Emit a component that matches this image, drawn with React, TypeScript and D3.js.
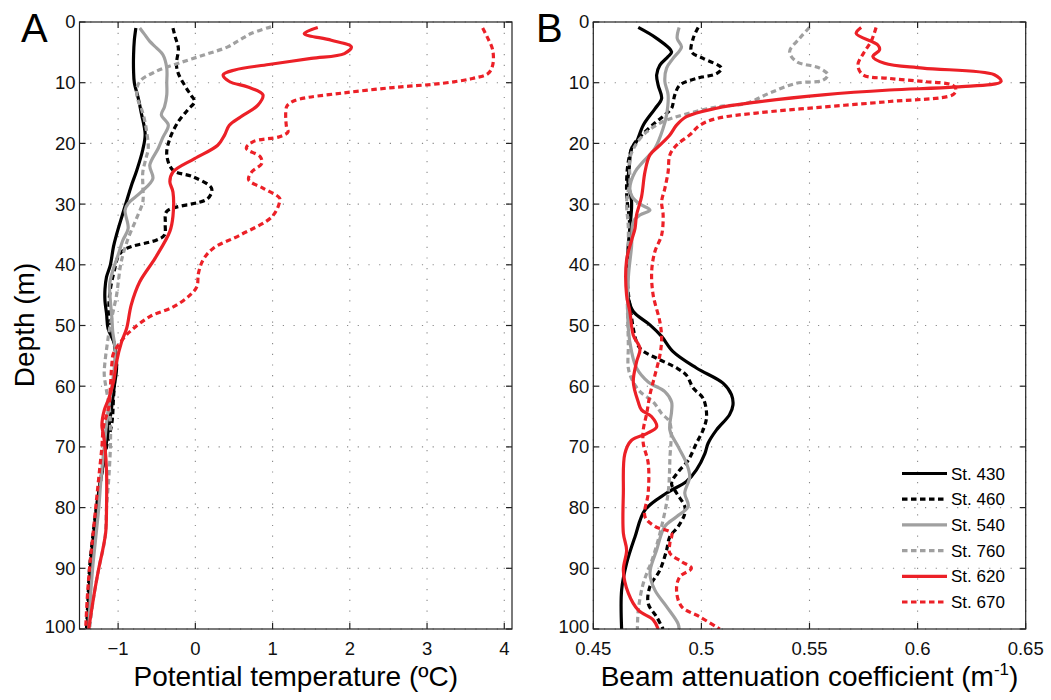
import React from 'react';
import * as d3 from 'd3';

type P = [number, number]; // [depth (m), value]

const stations = ['St. 430', 'St. 460', 'St. 540', 'St. 760', 'St. 620', 'St. 670'];
const stationColors = ['#000000', '#000000', '#a0a0a0', '#a0a0a0', '#ec2027', '#ec2027'];
const stationDashed = [false, true, false, true, false, true];

const depthTicks = [0, 10, 20, 30, 40, 50, 60, 70, 80, 90, 100];
const tempTicks = [-1, 0, 1, 2, 3, 4];
const beamTicks = [0.45, 0.5, 0.55, 0.6, 0.65];

// Panel A: potential temperature (°C) vs depth
const temp430: P[] = [[1,-0.77],[3,-0.79],[5.5,-0.8],[8,-0.8],[10,-0.79],[12.5,-0.74],[15,-0.7],[18.5,-0.65],[21,-0.68],[24.5,-0.76],[27,-0.83],[29.5,-0.89],[32,-0.95],[35,-1.02],[37,-1.06],[40,-1.1],[42,-1.15],[44,-1.17],[46,-1.17],[48,-1.15],[50.5,-1.13],[53,-1.05],[57,-1.02],[60,-1.05],[65,-1.1],[70,-1.16],[75,-1.22],[80,-1.28],[85,-1.32],[90,-1.36],[95,-1.38],[100,-1.4]];
const temp460: P[] = [[1,-0.29],[2.5,-0.26],[4.3,-0.22],[7,-0.245],[8.5,-0.22],[10.4,-0.14],[12,-0.06],[13.1,-0.01],[14.5,-0.1],[16.4,-0.22],[19.2,-0.33],[21.9,-0.37],[24.4,-0.29],[25.5,-0.03],[27.4,0.21],[29.1,0.16],[31.2,-0.37],[33,-0.39],[35.1,-0.4],[35.9,-0.5],[37.3,-0.89],[38.4,-0.99],[41,-1.05],[44,-1.1],[47,-1.12],[50,-1.1],[52.5,-1.06],[55,-1.03],[58,-1.04],[62,-1.06],[66,-1.08],[70,-1.15],[75,-1.22],[80,-1.28],[85,-1.33],[90,-1.37],[95,-1.39],[100,-1.41]];
const temp540: P[] = [[1,-0.72],[2,-0.66],[3.2,-0.59],[4.3,-0.5],[5.4,-0.42],[7.6,-0.37],[10,-0.37],[12,-0.37],[14,-0.4],[15.3,-0.44],[17,-0.35],[19,-0.42],[20.8,-0.48],[23.6,-0.59],[25.8,-0.55],[28,-0.7],[29.9,-0.87],[31,-0.91],[34,-0.87],[36,-0.94],[38.4,-1],[41,-1.07],[43.3,-1.11],[46,-1.1],[48.8,-1.08],[51,-1.07],[53.8,-1.04],[57,-1.05],[60,-1.08],[65,-1.14],[70,-1.18],[75,-1.22],[80,-1.25],[85,-1.29],[90,-1.33],[95,-1.36],[100,-1.38]];
const temp760: P[] = [[0.8,0.98],[1.9,0.72],[3,0.57],[4.1,0.42],[5.4,0.12],[6.8,-0.22],[8.2,-0.52],[9.8,-0.72],[11.5,-0.76],[13,-0.74],[14.2,-0.7],[16,-0.66],[18.1,-0.63],[20.8,-0.61],[22.5,-0.64],[24.7,-0.68],[27,-0.68],[29.6,-0.68],[32.3,-0.76],[36,-0.88],[39.5,-0.96],[42,-0.99],[45,-1.02],[48,-1.07],[50.5,-1.11],[53,-1.14],[56,-1.17],[58,-1.18],[60,-1.16],[63,-1.12],[66,-1.1],[70,-1.1],[75,-1.12],[80,-1.15],[85,-1.17],[90,-1.25],[95,-1.32],[100,-1.37]];
const temp620: P[] = [[0.9,1.585],[1.9,1.41],[3,1.76],[4.1,2.02],[5.2,1.93],[6,1.5],[7,0.95],[7.9,0.51],[8.7,0.36],[9.8,0.44],[10.7,0.68],[12,0.875],[13.7,0.81],[15.6,0.59],[17,0.44],[18.6,0.38],[20.3,0.29],[22.5,-0.01],[24.7,-0.29],[26.3,-0.33],[28,-0.29],[32,-0.29],[34.5,-0.33],[38.9,-0.52],[42.8,-0.72],[46.6,-0.83],[50.5,-0.89],[52.7,-0.955],[56,-1.02],[59.3,-1.06],[62,-1.12],[64,-1.18],[66.5,-1.21],[68,-1.19],[70,-1.17],[74,-1.15],[80,-1.15],[84,-1.16],[87,-1.2],[90,-1.25],[95,-1.32],[100,-1.38]];
const temp670: P[] = [[1,3.72],[2.5,3.78],[4.6,3.85],[7.1,3.85],[8.5,3.79],[9.3,3.59],[10.1,3.2],[10.8,2.56],[11.7,1.91],[12.7,1.35],[13.4,1.22],[14,1.18],[17.3,1.18],[18.1,1.2],[18.9,1.09],[19.7,0.75],[20.8,0.66],[22.2,0.84],[23.3,0.86],[24.7,0.73],[26,0.69],[27.4,0.88],[29,1.09],[29.7,1.09],[32.1,0.99],[35.1,0.58],[37.3,0.23],[39.2,0.1],[41.4,0.04],[43.6,0.02],[45,-0.07],[46.9,-0.28],[48.5,-0.585],[50.7,-0.82],[52.1,-0.93],[54.6,-1.06],[56.2,-1.08],[60.1,-1.1],[63.4,-1.12],[66.7,-1.19],[70,-1.21],[75,-1.25],[80,-1.29],[85,-1.33],[90,-1.37],[95,-1.4],[100,-1.42]];

// Panel B: beam attenuation coefficient (1/m) vs depth
const beam430: P[] = [[0.9,0.4708],[2.7,0.4793],[4.9,0.4862],[5.7,0.4846],[7.1,0.4808],[8.7,0.4793],[10.4,0.48],[12.6,0.4816],[14.3,0.4785],[17,0.4731],[19.7,0.47],[20.8,0.4677],[24.1,0.4666],[26.3,0.466],[29.6,0.4677],[34,0.4669],[36.7,0.4662],[42.2,0.4654],[45.5,0.4662],[47.7,0.4685],[49.9,0.4762],[51.8,0.4816],[54.3,0.4869],[57,0.4977],[59.5,0.51],[61.4,0.5139],[63.1,0.5146],[64.7,0.513],[67.2,0.507],[69.4,0.5031],[71.1,0.5016],[73.8,0.4977],[75.7,0.4931],[77.6,0.4839],[80.4,0.4739],[84.8,0.4693],[89.2,0.4654],[93.6,0.4631],[100,0.4631]];
const beam460: P[] = [[0.9,0.4985],[2.7,0.4962],[4.9,0.4954],[6,0.5008],[7.6,0.5093],[8.5,0.507],[9.3,0.4977],[10.4,0.49],[12,0.4877],[14.2,0.4862],[15.3,0.4831],[16.4,0.4793],[18.1,0.4739],[20.3,0.4685],[23,0.4662],[28,0.4654],[34,0.4669],[42,0.4657],[46.6,0.4669],[52.7,0.47],[54,0.4723],[55.4,0.4793],[57,0.4885],[58.2,0.4931],[60.3,0.4962],[62,0.5008],[65,0.5024],[67.2,0.5008],[69.4,0.4977],[72.2,0.4939],[74.1,0.4893],[76,0.4862],[77.6,0.4885],[79.8,0.4923],[81,0.4923],[83.1,0.4893],[84.8,0.4854],[87,0.4839],[90.3,0.4808],[93,0.4762],[95.8,0.4754],[98,0.4793],[100,0.4823]];
const beam540: P[] = [[0.9,0.4897],[2.7,0.4888],[4.1,0.4908],[6,0.4869],[7.6,0.4839],[9.8,0.4831],[12,0.4846],[15.3,0.4839],[17.5,0.4823],[20.8,0.4785],[23,0.4731],[24.7,0.4693],[27.4,0.4669],[28.8,0.468],[30,0.4716],[31,0.4762],[31.8,0.4716],[32.9,0.4685],[37,0.4677],[42.2,0.4662],[50.5,0.4662],[54.3,0.4677],[57,0.47],[59.3,0.4754],[60.9,0.4831],[62.6,0.4862],[64.2,0.4862],[67.2,0.4854],[70,0.4893],[72.7,0.4931],[74.9,0.4946],[77.6,0.4923],[79.8,0.4939],[81.5,0.4885],[83.1,0.4831],[87,0.4793],[90.8,0.4762],[93.6,0.4785],[96.3,0.4839],[99.1,0.4892],[100,0.4897]];
const beam760: P[] = [[0.9,0.55],[2.7,0.5454],[4.9,0.5408],[6.5,0.5439],[7.6,0.5547],[8.7,0.5585],[9.6,0.5562],[10.1,0.5439],[11.7,0.5316],[13.4,0.5208],[14,0.507],[15.3,0.4916],[16.4,0.4823],[18.1,0.4747],[20,0.47],[22.5,0.4669],[26.3,0.4669],[29.6,0.4654],[34,0.4662],[45,0.4657],[53.2,0.4662],[57,0.4662],[59,0.468],[60.9,0.4716],[62.6,0.4777],[64.5,0.4816],[66,0.4854],[72.2,0.4854],[77.6,0.4846],[83.1,0.4816],[88.1,0.4777],[92.5,0.4731],[96.9,0.4708],[100,0.4704]];
const beam620: P[] = [[0.9,0.5739],[1.9,0.5716],[3.8,0.5816],[4.6,0.5824],[5.7,0.5793],[6.8,0.5847],[7.6,0.6024],[8.7,0.6355],[9.8,0.6386],[10.7,0.6178],[11.2,0.587],[12,0.5562],[13.2,0.5254],[14.2,0.507],[15.6,0.4931],[17,0.4885],[18.6,0.4854],[20.3,0.4808],[21.9,0.4762],[24.7,0.4739],[28.8,0.4723],[31.8,0.47],[34,0.4693],[36,0.4677],[39.2,0.4654],[45,0.4654],[47.7,0.4669],[51.6,0.4685],[53.8,0.4716],[56,0.47],[59.3,0.4685],[62.6,0.4708],[63.9,0.4723],[65,0.4769],[66.7,0.4793],[67.8,0.4747],[68.9,0.4677],[71.1,0.4646],[77.6,0.4639],[84.2,0.4639],[87,0.4654],[90.3,0.4639],[94.1,0.4662],[96.9,0.4708],[98.5,0.4777],[100,0.48]];
const beam670: P[] = [[0.9,0.5808],[3.2,0.5785],[4.9,0.5754],[7.1,0.5724],[8.7,0.5747],[9.3,0.587],[9.8,0.6024],[10.4,0.6162],[11.2,0.6178],[12,0.6162],[13.1,0.587],[14,0.5562],[15,0.5254],[15.9,0.507],[17,0.4993],[18.6,0.4946],[20.3,0.4885],[21.9,0.4854],[24.7,0.4846],[27.4,0.4831],[29.6,0.4816],[31.8,0.4823],[35.1,0.4816],[37.8,0.4785],[41.1,0.477],[45,0.4777],[49.4,0.4808],[52.2,0.4816],[54.9,0.4808],[58.2,0.4785],[61.4,0.4762],[64.5,0.4747],[67.2,0.4731],[69.4,0.4731],[72.7,0.4754],[77.6,0.4754],[81.5,0.4739],[83.1,0.4785],[84.2,0.4862],[85.9,0.4854],[87.5,0.4854],[88.9,0.4908],[90,0.4954],[91.4,0.49],[93.6,0.4885],[96.3,0.4908],[98,0.4993],[100,0.5085]];

const tempSeries = [temp430, temp460, temp540, temp760, temp620, temp670];
const beamSeries = [beam430, beam460, beam540, beam760, beam620, beam670];

const FONT = '"Liberation Sans", Arial, Helvetica, sans-serif';
const TOP = 22;
const BOTTOM = 629;
const AXIS = '#222222';
const GRID = '#8a8a8a';

interface PanelProps {
  id: string;
  left: number;
  right: number;
  domain: [number, number];
  ticks: number[];
  fmt: (v: number) => string;
  series: P[][];
  letter: string;
  letterX: number;
  xlabel: React.ReactNode;
  showLegend?: boolean;
}

function Panel(p: PanelProps) {
  const x = d3.scaleLinear().domain(p.domain).range([p.left, p.right]);
  const y = d3.scaleLinear().domain([0, 100]).range([TOP, BOTTOM]);
  const line = d3
    .line<P>()
    .x((d) => x(d[1]))
    .y((d) => y(d[0]))
    .curve(d3.curveCatmullRom.alpha(0.5));
  const tl = 6;
  return (
    <g>
      <defs>
        <clipPath id={`clip-${p.id}`}>
          <rect x={p.left} y={TOP} width={p.right - p.left} height={BOTTOM - TOP} />
        </clipPath>
      </defs>
      {/* grid */}
      {p.ticks.map((t) => (
        <line key={`gx${t}`} x1={x(t)} x2={x(t)} y1={TOP} y2={BOTTOM} stroke={GRID} strokeWidth={1.1} strokeDasharray="1.2,9.5" />
      ))}
      {depthTicks.map((t) => (
        <line key={`gy${t}`} x1={p.left} x2={p.right} y1={y(t)} y2={y(t)} stroke={GRID} strokeWidth={1.1} strokeDasharray="1.2,9.5" />
      ))}
      {/* data */}
      <g clipPath={`url(#clip-${p.id})`}>
        {p.series.map((s, i) => (
          <path
            key={i}
            d={line(s) || ''}
            fill="none"
            stroke={stationColors[i]}
            strokeWidth={3.2}
            strokeDasharray={stationDashed[i] ? '5.5,3.5' : undefined}
            strokeLinejoin="round"
          />
        ))}
      </g>
      {/* box */}
      <rect x={p.left} y={TOP} width={p.right - p.left} height={BOTTOM - TOP} fill="none" stroke={AXIS} strokeWidth={1.2} />
      {/* ticks */}
      {p.ticks.map((t) => (
        <g key={`tx${t}`}>
          <line x1={x(t)} x2={x(t)} y1={BOTTOM} y2={BOTTOM - tl} stroke={AXIS} strokeWidth={1.2} />
          <line x1={x(t)} x2={x(t)} y1={TOP} y2={TOP + tl} stroke={AXIS} strokeWidth={1.2} />
          <text x={x(t)} y={655} textAnchor="middle" fontSize={18.5} fontFamily={FONT} fill="#111">
            {p.fmt(t)}
          </text>
        </g>
      ))}
      {depthTicks.map((t) => (
        <g key={`ty${t}`}>
          <line x1={p.left} x2={p.left + tl} y1={y(t)} y2={y(t)} stroke={AXIS} strokeWidth={1.2} />
          <line x1={p.right} x2={p.right - tl} y1={y(t)} y2={y(t)} stroke={AXIS} strokeWidth={1.2} />
          <text x={p.left - 4} y={t === 100 ? y(t) - 2 : y(t)} dy="0.35em" textAnchor="end" fontSize={18.5} fontFamily={FONT} fill="#111">
            {t}
          </text>
        </g>
      ))}
      {/* x label */}
      <text x={(p.left + p.right) / 2} y={686} textAnchor="middle" fontSize={28} fontFamily={FONT} fill="#000">
        {p.xlabel}
      </text>
      {/* panel letter */}
      <text x={p.letterX} y={42} fontSize={40} fontFamily={FONT} fill="#000">
        {p.letter}
      </text>
      {p.showLegend && (
        <g>
          {stations.map((s, i) => {
            const ly = 473.5 + i * 25.7;
            return (
              <g key={s}>
                <line x1={902} x2={947} y1={ly} y2={ly} stroke={stationColors[i]} strokeWidth={3.2} strokeDasharray={stationDashed[i] ? '5.5,3.5' : undefined} />
                <text x={951} y={ly} dy="0.36em" fontSize={17} fontFamily={FONT} fill="#000">
                  {s}
                </text>
              </g>
            );
          })}
        </g>
      )}
    </g>
  );
}

export default function App() {
  const tempFmt = (v: number) => (v < 0 ? `\u2212${Math.abs(v)}` : `${v}`);
  const beamFmt = (v: number) => d3.format('')(+v.toFixed(2));
  return (
    <svg width={1051} height={700} style={{ position: 'absolute', left: 0, top: 0, background: '#fff' }}>
      <rect x={0} y={0} width={1051} height={700} fill="#fff" />
      <text transform="translate(34,325) rotate(-90)" textAnchor="middle" fontSize={28} fontFamily={FONT} fill="#000">
        Depth (m)
      </text>
      <Panel
        id="a"
        left={79.5}
        right={512}
        domain={[-1.5, 4.1]}
        ticks={tempTicks}
        fmt={tempFmt}
        series={tempSeries}
        letter="A"
        letterX={21}
        xlabel={<>Potential temperature (ºC)</>}
      />
      <Panel
        id="b"
        left={593.3}
        right={1025.7}
        domain={[0.45, 0.65]}
        ticks={beamTicks}
        fmt={beamFmt}
        series={beamSeries}
        letter="B"
        letterX={536}
        xlabel={
          <>
            <tspan>Beam attenuation coefficient (m</tspan>
            <tspan fontSize={17} dy={-11}>-1</tspan>
            <tspan dy={11}>)</tspan>
          </>
        }
        showLegend
      />
    </svg>
  );
}
